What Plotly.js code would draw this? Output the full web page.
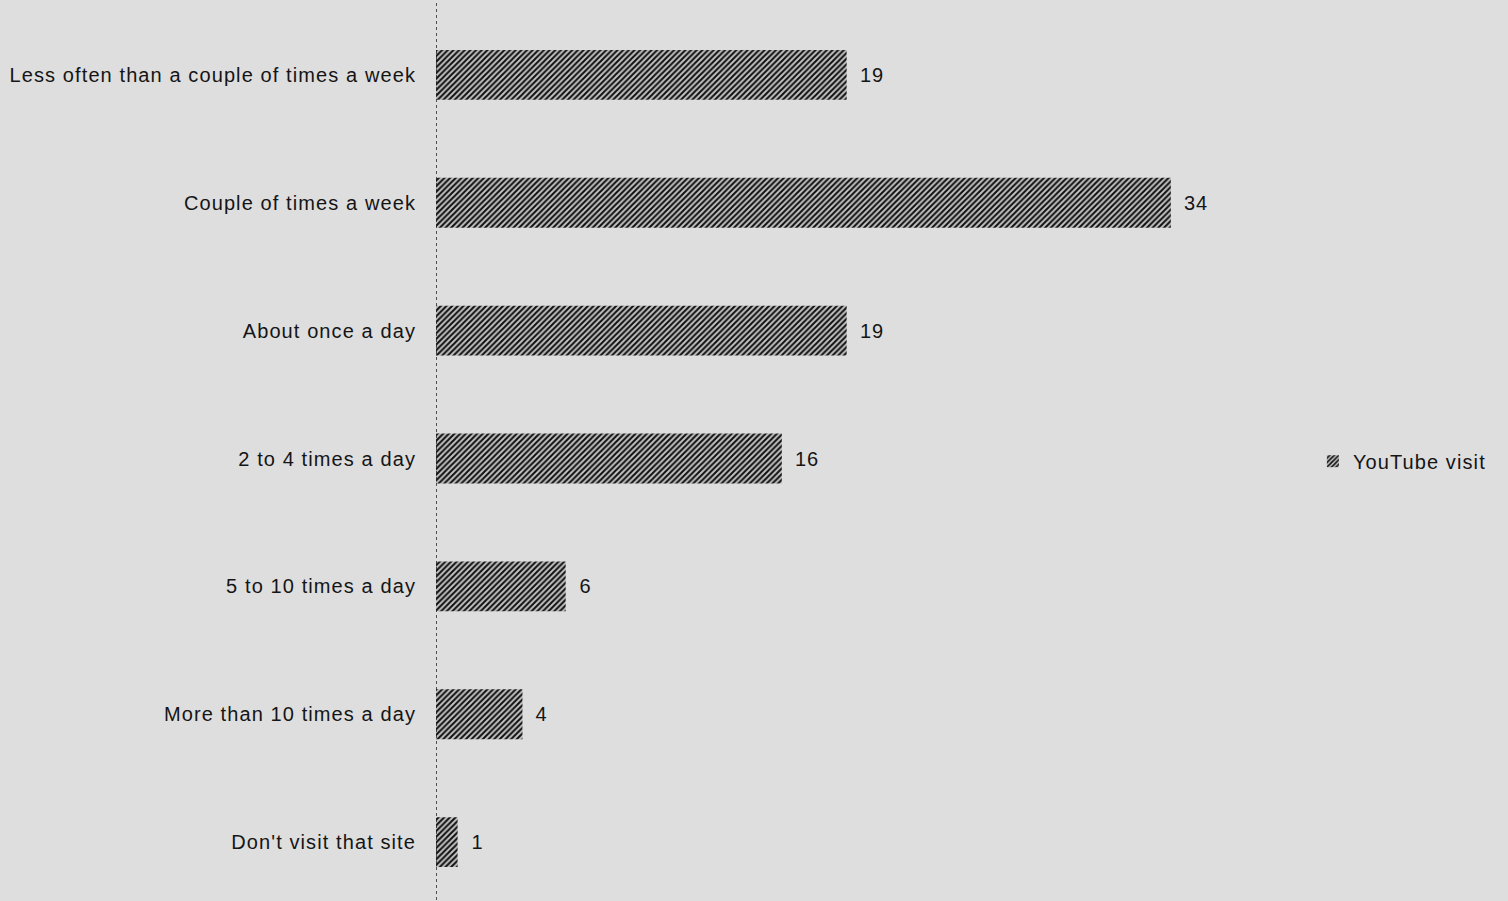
<!DOCTYPE html>
<html>
<head>
<meta charset="utf-8">
<script src="https://cdn.plot.ly/plotly-3.0.1.min.js"></script>
<style>
html,body{margin:0;padding:0;overflow:hidden;background:#dedede;}
#chart svg text{letter-spacing:1.1px;}
#chart .legend, #chart .legend *{clip-path:none !important;}
</style>
</head>
<body>
<div id="chart" style="width:1508px;height:906px;"></div>
<script>
const categories = [
  "Less often than a couple of times a week",
  "Couple of times a week",
  "About once a day",
  "2 to 4 times a day",
  "5 to 10 times a day",
  "More than 10 times a day",
  "Don't visit that site"
];
const values = [19, 34, 19, 16, 6, 4, 1];
const seriesName = "YouTube visit";

const FONT = "Liberation Sans, Arial, sans-serif";

const trace = {
  type: "bar",
  orientation: "h",
  y: categories,
  x: values,
  name: seriesName,
  width: 0.39,
  marker: {
    color: "#c4c4c4",
    line: {width: 0},
    pattern: {shape: "/", fgcolor: "#111", bgcolor: "#c4c4c4", size: 4, solidity: 0.52}
  },
  showlegend: true
};

const valueLabels = categories.map((c, i) => ({
  x: values[i], y: c, xref: "x", yref: "y",
  text: String(values[i]), showarrow: false,
  xanchor: "left", yanchor: "middle", xshift: 12,
  font: {family: FONT, size: 20, color: "#151515"}
}));

const layout = {
  width: 1508,
  height: 906,
  margin: {l: 436, r: 0, t: 11, b: 0},
  paper_bgcolor: "#dedede",
  plot_bgcolor: "rgba(0,0,0,0)",
  font: {family: FONT, size: 20, color: "#151515"},
  xaxis: {range: [0, 49.6], showgrid: false, zeroline: false, showticklabels: false, showline: false, ticks: ""},
  yaxis: {autorange: "reversed", showgrid: false, zeroline: false, showline: false,
          ticks: "outside", ticklen: 15, tickcolor: "rgba(0,0,0,0)",
          tickfont: {family: FONT, size: 20, color: "#151515"}},
  showlegend: true,
  legend: {x: 0.818, y: 0.497, xanchor: "left", yanchor: "middle", bgcolor: "rgba(0,0,0,0)",
           font: {family: FONT, size: 20, color: "#151515"}, itemwidth: 30},
  annotations: valueLabels,
  shapes: [
    {type: "line", xref: "x", yref: "paper", x0: 0, x1: 0, y0: 0, y1: 1.02,
     line: {color: "#222", width: 1.5, dash: "dot"}}
  ]
};

Plotly.newPlot("chart", [trace], layout, {displayModeBar: false, staticPlot: true});
</script>
</body>
</html>
